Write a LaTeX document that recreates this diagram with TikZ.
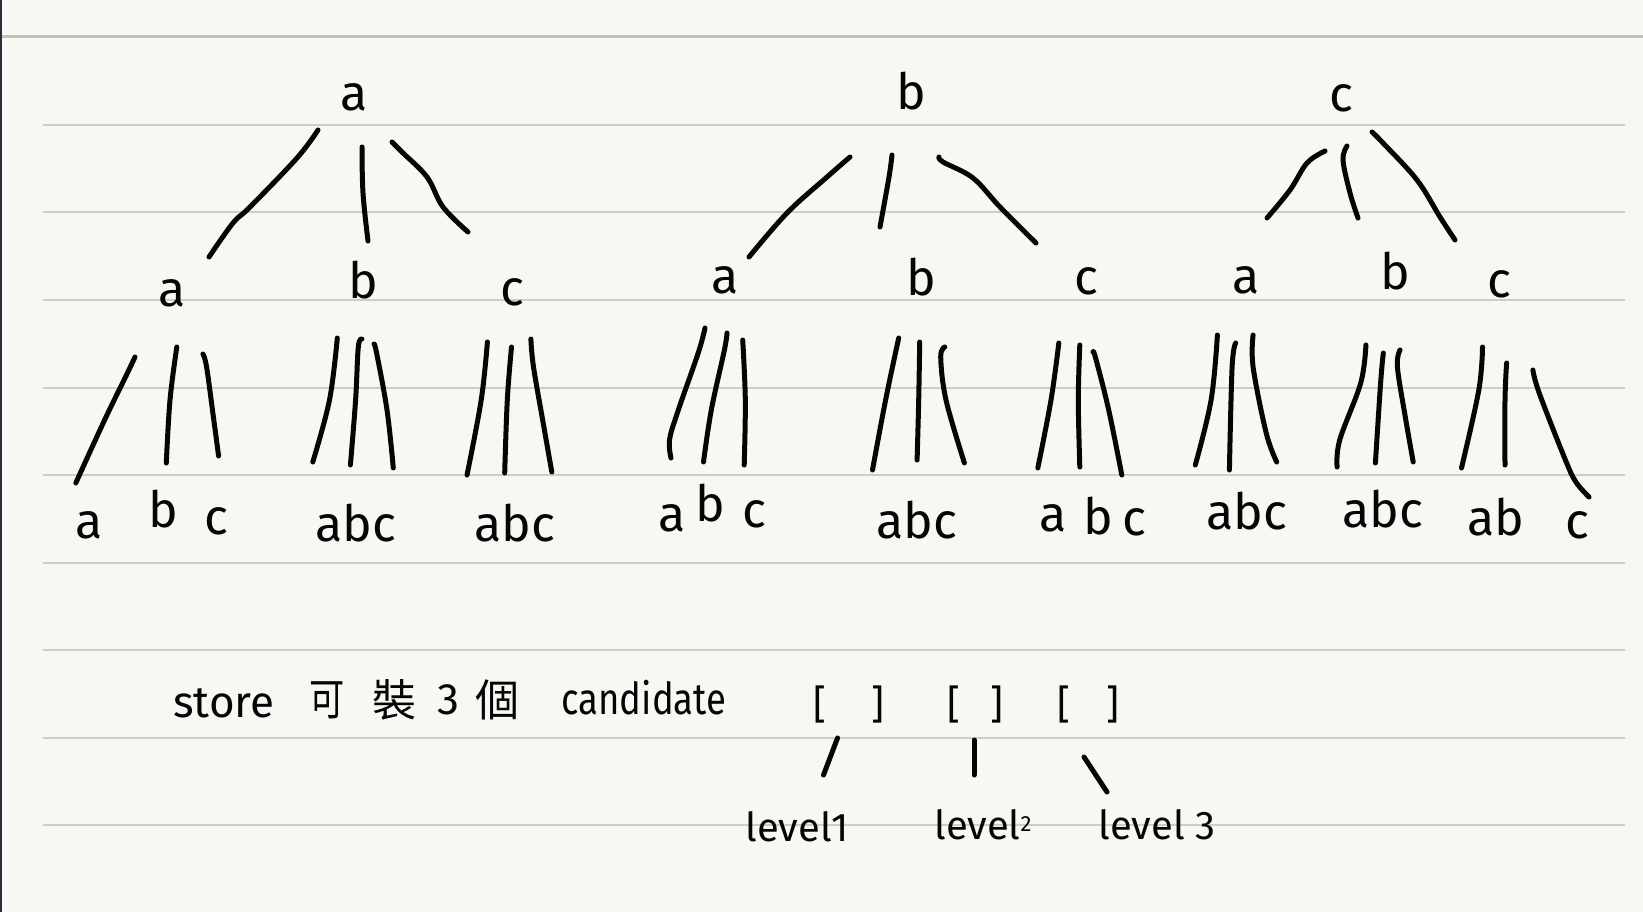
\documentclass[tikz,border=0pt]{standalone}
\usepackage{fontspec}
\setmainfont{Fira Sans}
\newfontfamily\cjk{Noto Sans CJK TC}
\definecolor{paper}{HTML}{F9F7F3}
\definecolor{rule}{HTML}{D0CDC8}
\definecolor{toprule}{HTML}{C4C1BB}
\definecolor{edge}{HTML}{2A2C38}
\definecolor{ink}{HTML}{050505}
\newcommand\stk[1]{\draw[pen] plot[smooth,tension=0.6] coordinates {#1};}
\begin{document}
\begin{tikzpicture}[x=1pt,y=-1pt,
  pen/.style={line width=5pt,line cap=round,line join=round,draw=ink},
  lt/.style={font=\fontsize{50}{50}\selectfont,inner sep=0pt,text=ink},
  st/.style={font=\fontsize{44}{44}\selectfont,inner sep=0pt,text=ink},
  ck/.style={font=\cjk\fontsize{44}{44}\selectfont,inner sep=0pt,text=ink},
  bk/.style={font=\fontsize{40}{40}\selectfont,inner sep=0pt,text=ink},
  lv/.style={font=\fontsize{40}{40}\selectfont,inner sep=0pt,text=ink}]
% paper
\fill[paper] (0,0) rectangle (1643,912);
\useasboundingbox (0,0) rectangle (1643,912);
\draw[toprule,line width=3pt] (0,37) -- (1643,37);
\foreach \yy in {125,212.5,300,387.5,475,562.5,650,737.5,825}
  \draw[rule,line width=2pt] (43,\yy) -- (1625,\yy);
\fill[edge] (0,0) rectangle (1.5,912);

% level 1 letters
\node[lt] (ra) at (354,97) {a};
\node[lt] (rb) at (911,91) {b};
\node[lt] (rc) at (1341,98) {c};

% level 2 letters
\node[lt] (aa) at (172,293) {a};
\node[lt] (ab) at (363,280) {b};
\node[lt] (ac) at (512,292) {c};
\node[lt] (ba) at (725,280) {a};
\node[lt] (bb) at (921,277) {b};
\node[lt] (bc) at (1086,281) {c};
\node[lt] (ca) at (1246,280) {a};
\node[lt] (cb) at (1395,271) {b};
\node[lt] (cc) at (1499,284) {c};

% top branches
\stk{(318,130) (297,158) (250,207) (233,223) (209,257)}
\stk{(362,147) (363,193) (368,241)}
\stk{(392,142) (403,153) (427,177) (443,207) (468,232)}
\stk{(850,157) (827,177) (787,213) (749,257)}
\stk{(892,155) (889,177) (880,227)}
\stk{(939,157) (943,162) (973,178) (1000,207) (1036,243)}
\stk{(1325,151) (1307,163) (1290,190) (1267,218)}
\stk{(1347,146) (1343,160) (1350,193) (1358,218)}
\stk{(1372,132) (1383,143) (1417,180) (1440,217) (1455,240)}

% level 3 branches
% group 1
\stk{(135,357) (125.5,377) (104.6,420) (75.8,483)}
\stk{(176.8,347) (170,400) (166.3,463)}
\stk{(202.9,354) (206.6,367) (213.4,417) (218.6,456)}
% group 2
\stk{(337.3,338) (329.5,400) (312.8,462)}
\stk{(361.9,339) (358.3,347) (355.6,400) (350.4,465)}
\stk{(374,344) (376.6,353) (387,410) (393.3,468)}
% group 3
\stk{(487.4,342) (481.2,400) (467,475)}
\stk{(511.5,347) (507.3,400) (504.7,473)}
\stk{(530.9,339) (533.5,367) (543.9,427) (551.8,472)}
% group 4
\stk{(705,328) (698.2,353) (677.3,413) (669.5,440) (671,458)}
\stk{(727,333) (724.4,350) (711.3,410) (703.5,462)}
\stk{(742.7,340) (745.3,400) (744.2,465)}
% group 5
\stk{(898.7,338) (885.6,400) (872.5,470)}
\stk{(919.7,342) (918.7,400) (917.1,460)}
\stk{(944.9,347) (940.7,357) (946,400) (964.4,463)}
% group 6
\stk{(1058.8,343) (1051,400) (1037.8,468)}
\stk{(1079.8,345) (1078.3,400) (1079.8,467)}
\stk{(1093,352) (1095.6,358) (1108.7,410) (1121.8,475)}
% group 7
\stk{(1217.4,335) (1211.1,400) (1195.3,465)}
\stk{(1235.7,343) (1232.1,367) (1229.4,470)}
\stk{(1253.1,335) (1253.1,367) (1266.2,433) (1276.7,462)}
% group 8
\stk{(1365.9,345) (1360.7,383) (1339.7,440) (1337.1,467)}
\stk{(1383.3,353) (1380.6,383) (1375.4,463)}
\stk{(1400,350) (1397.4,367) (1405.3,417) (1413.2,462)}
% group 9
\stk{(1482.5,347) (1478.8,390) (1461.5,468)}
\stk{(1506.6,363) (1505,400) (1505,465)}
\stk{(1532.9,370) (1539.2,393) (1565.4,460) (1575.9,482) (1589,497)}

% level 3 letters
\node[lt] (g1a) at (89,525) {a};
\node[lt] (g1b) at (163,509) {b};
\node[lt] (g1c) at (216,521) {c};
\node[lt] (g2) at (356,523) {abc};
\node[lt] (g3) at (515,523) {abc};
\node[lt] (g4a) at (672,518) {a};
\node[lt] (g4b) at (710,503) {b};
\node[lt] (g4c) at (754,514) {c};
\node[lt] (g5) at (917,520) {abc};
\node[lt] (g6a) at (1053,518) {a};
\node[lt] (g6b) at (1098,516) {b};
\node[lt] (g6c) at (1134,522) {c};
\node[lt] (g7) at (1247,511) {abc};
\node[lt] (g8) at (1383,509) {abc};
\node[lt] (g9ab) at (1496,517) {ab};
\node[lt] (g9c) at (1577,525) {c};

% bottom note
\node[st] (store) at (224,703) {store};
\node[ck] (ke) at (327,700) {\scalebox{0.8}[1]{可}};
\node[ck] (zhuang) at (394,700) {裝};
\node[st] (three) at (448,700) {3};
\node[ck] (ge) at (497,700) {個};
\node[st] (cand) at (644,698) {\scalebox{0.83}[1]{candidate}};
\node[bk] (l1) at (819.5,704) {[};
\node[bk] (r1) at (878,704) {]};
\node[bk] (l2) at (953.5,704) {[};
\node[bk] (r2) at (997,704) {]};
\node[bk] (l3) at (1063.5,704) {[};
\node[bk] (r3) at (1113,704) {]};
\node[lv] (lev1) at (797,827) {level1};
\node[lv] (lev2) at (983,825) {level\raisebox{8pt}{\fontsize{22}{22}\selectfont 2}};
\node[lv] (lev3) at (1157,825) {level 3};
\coordinate (s1a) at (837.5,738); \coordinate (s1b) at (823.5,775);
\coordinate (s2a) at (974,740);   \coordinate (s2b) at (974,775);
\coordinate (s3a) at (1084,757);  \coordinate (s3b) at (1107,792);
\draw[pen] (s1a) -- (s1b);
\draw[pen] (s2a) -- (s2b);
\draw[pen] (s3a) -- (s3b);
\end{tikzpicture}
\end{document}
